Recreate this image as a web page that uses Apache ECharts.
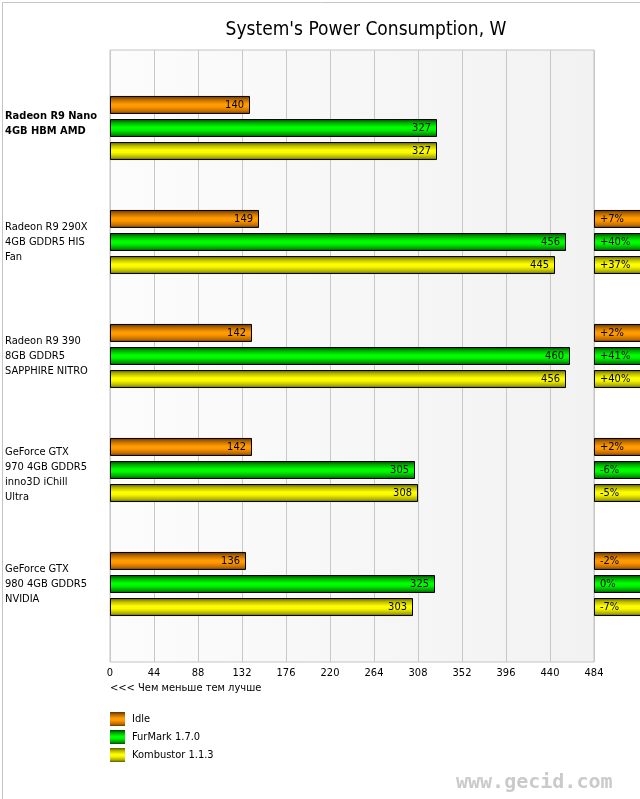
<!DOCTYPE html>
<html>
<head>
<meta charset="utf-8">
<script src="https://cdn.jsdelivr.net/npm/echarts@6/dist/echarts.min.js"></script>
<style>
html,body{margin:0;padding:0;background:#fff;}
#c{width:640px;height:799px;}
</style>
</head>
<body>
<div id="c"></div>
<script>
var categories = [
  'Radeon R9 Nano\n4GB HBM AMD',
  'Radeon R9 290X\n4GB GDDR5 HIS\nFan',
  'Radeon R9 390\n8GB GDDR5\nSAPPHIRE NITRO',
  'GeForce GTX\n970 4GB GDDR5\ninno3D iChill\nUltra',
  'GeForce GTX\n980 4GB GDDR5\nNVIDIA'
];
var seriesNames = ['Idle', 'FurMark 1.7.0', 'Kombustor 1.1.3'];
var idle = [140, 149, 142, 142, 136];
var furmark = [327, 456, 460, 305, 325];
var kombustor = [327, 445, 456, 308, 303];
var idlePct = [null, '+7%', '+2%', '+2%', '-2%'];
var furmarkPct = [null, '+40%', '+41%', '-6%', '0%'];
var kombustorPct = [null, '+37%', '+40%', '-5%', '-7%'];
var xTicks = [0, 44, 88, 132, 176, 220, 264, 308, 352, 396, 440, 484];

var FONT = '"DejaVu Sans Condensed", "DejaVu Sans"';
function grad(stops) {
  return new echarts.graphic.LinearGradient(0, 0, 0, 1, stops.map(function (s) { return { offset: s[0], color: s[1] }; }));
}
var colOrange = grad([[0, '#5e3300'], [0.2, '#b86800'], [0.45, '#ff9c00'], [0.6, '#ff9800'], [0.85, '#c06c00'], [1, '#6a3a00']]);
var colGreen = grad([[0, '#004000'], [0.2, '#00a800'], [0.45, '#00ff00'], [0.6, '#00f800'], [0.85, '#00a000'], [1, '#004a00']]);
var colYellow = grad([[0, '#5c5c00'], [0.2, '#b8b800'], [0.45, '#ffff00'], [0.6, '#f8f800'], [0.85, '#b0b000'], [1, '#5a5a00']]);

var chart = echarts.init(document.getElementById('c'), null, { renderer: 'canvas' });

function mainSeries(name, data, color) {
  return {
    type: 'bar', name: name, xAxisIndex: 1, yAxisIndex: 1,
    data: data, barWidth: 18, barGap: '28%',
    itemStyle: { color: color, borderColor: '#000', borderWidth: 1 },
    label: { show: true, position: 'insideRight', distance: 6, color: '#000', fontFamily: FONT, fontSize: 11 },
    silent: true, animation: false
  };
}
function pctSeries(name, data, color) {
  return {
    type: 'bar', name: name + ' %', xAxisIndex: 2, yAxisIndex: 2,
    data: data.map(function (v) { return v === null ? null : { value: 2, pct: v }; }),
    barWidth: 18, barGap: '28%', clip: false,
    itemStyle: { color: color, borderColor: '#000', borderWidth: 1 },
    label: { show: true, position: 'insideLeft', distance: 6, color: '#000', fontFamily: FONT, fontSize: 11,
      formatter: function (p) { return p.data ? p.data.pct : ''; } },
    silent: true, animation: false, z: 5
  };
}

var option = {
  animation: false,
  title: {
    text: "System's Power Consumption, W",
    left: 361, top: 16, textAlign: 'center',
    textStyle: { fontFamily: FONT, fontWeight: 'normal', fontSize: 19, color: '#000' }
  },
  legend: {
    data: seriesNames,
    orient: 'vertical', left: 105, top: 707,
    itemWidth: 15, itemHeight: 14, itemGap: 4, icon: 'rect',
    itemStyle: { borderWidth: 0 },
    textStyle: { fontFamily: FONT, fontSize: 11, color: '#000', padding: [0, 0, 0, 2] },
    selectedMode: false
  },
  grid: [
    { left: 110, top: 50, width: 484, height: 612, show: true,
      backgroundColor: new echarts.graphic.LinearGradient(0, 0, 1, 0, [{ offset: 0, color: '#fcfcfc' }, { offset: 1, color: '#f2f2f2' }]),
      borderColor: '#c4c4c4', borderWidth: 1 },
    { left: 110, top: 71, width: 484, height: 570 },
    { left: 594, top: 71, width: 46, height: 570 }
  ],
  xAxis: [
    { gridIndex: 0, type: 'value', min: 0, max: 484, interval: 44,
      axisLine: { show: false }, axisTick: { show: false },
      splitLine: { show: true, lineStyle: { color: '#c8c8c8', width: 1 } },
      axisLabel: { fontFamily: FONT, fontSize: 11, color: '#000', margin: 6,
        formatter: function (v) { return xTicks.indexOf(v) >= 0 ? String(v) : ''; } } },
    { gridIndex: 1, type: 'value', min: 0, max: 484, show: false },
    { gridIndex: 2, type: 'value', min: 0, max: 1, show: false }
  ],
  yAxis: [
    { gridIndex: 0, type: 'value', show: false },
    { gridIndex: 1, type: 'category', data: categories, inverse: true,
      axisLine: { show: false }, axisTick: { show: false }, splitLine: { show: false },
      axisLabel: { align: 'left', margin: 105, fontFamily: FONT, fontSize: 11, color: '#000', lineHeight: 15,
        formatter: function (v, i) {
          var lines = v.split('\n');
          if (i === 0) return lines.map(function (s) { return '{b|' + s + '}'; }).join('\n') + '\n{s| }';
          if (lines.length === 4) return '{s| }\n' + v;
          return v;
        },
        rich: {
          b: { fontWeight: 'bold', fontFamily: FONT, fontSize: 11, color: '#000', lineHeight: 15 },
          s: { fontSize: 8, lineHeight: 9 }
        } } },
    { gridIndex: 2, type: 'category', data: categories, inverse: true, show: false }
  ],
  series: [
    mainSeries(seriesNames[0], idle, colOrange),
    mainSeries(seriesNames[1], furmark, colGreen),
    mainSeries(seriesNames[2], kombustor, colYellow),
    pctSeries(seriesNames[0], idlePct, colOrange),
    pctSeries(seriesNames[1], furmarkPct, colGreen),
    pctSeries(seriesNames[2], kombustorPct, colYellow)
  ],
  graphic: [
    { type: 'rect', left: 0, top: 0, silent: true, z: -10,
      shape: { x: 0.5, y: 0.5, width: 638, height: 797 },
      style: { fill: 'none', stroke: '#c4c4c4', lineWidth: 1 } },
    { type: 'text', left: 110, top: 683, silent: true,
      style: { text: '<<< Чем меньше тем лучше', fontFamily: FONT, fontSize: 11, fill: '#000' } },
    { type: 'text', left: 456, top: 773, silent: true,
      style: { text: 'www.gecid.com', fontFamily: 'DejaVu Sans Mono', fontWeight: 'bold', fontSize: 20, fill: '#cacaca' } }
  ]
};
chart.setOption(option);
</script>
</body>
</html>
